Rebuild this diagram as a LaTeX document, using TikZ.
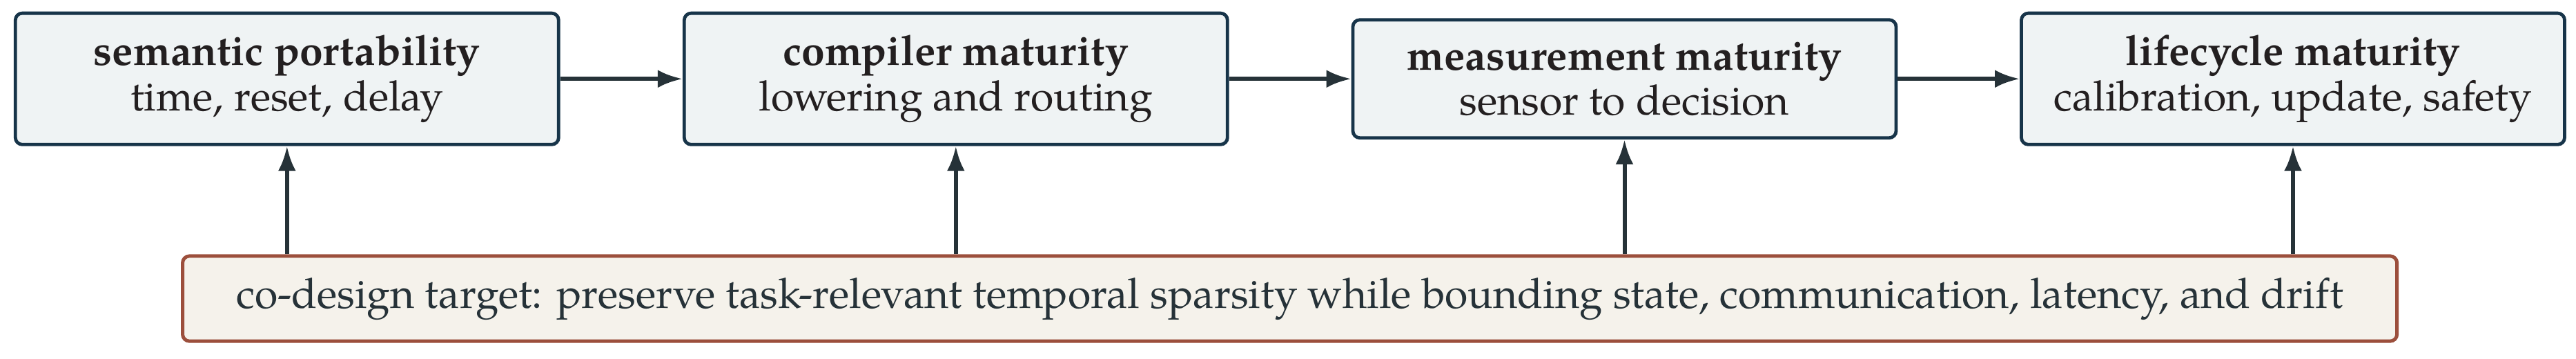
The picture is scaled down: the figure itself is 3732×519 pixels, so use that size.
\documentclass[tikz,border=0pt]{standalone}
\usepackage{fontspec}
\setmainfont{TeX Gyre Pagella}
\usetikzlibrary{arrows.meta,positioning}
\definecolor{topfill}{HTML}{EFF3F4}
\definecolor{topline}{HTML}{173449}
\definecolor{toptext}{HTML}{231F20}
\definecolor{arrcol}{HTML}{263238}
\definecolor{botfill}{HTML}{F5F2EB}
\definecolor{botline}{HTML}{9C4F3C}
\definecolor{bottext}{HTML}{263238}
\tikzset{
  stage/.style={draw=topline, fill=topfill, line width=0.72pt, rounded corners=1.5pt,
    minimum width=118.05pt, inner xsep=2pt, inner ysep=4.8pt, align=center,
    text=toptext, font=\fontsize{9.1}{9.8}\selectfont},
  target/.style={draw=botline, fill=botfill, line width=0.75pt, rounded corners=1.5pt,
    minimum width=481.2pt, minimum height=18.5pt, inner sep=2pt, align=center,
    text=bottext, font=\fontsize{9.1}{10}\selectfont},
  flow/.style={draw=arrcol, line width=0.9pt, -{Latex[length=5.4pt,width=3.9pt]}}
}
\begin{document}
\begin{tikzpicture}[x=0.15pt,y=-0.15pt]
\useasboundingbox (0,0) rectangle (3732,519);
\node[stage] (s1) at (415.8,114.2) {\textbf{semantic portability}\\time, reset, delay};
\node[stage] (s2) at (1384.8,114.2) {\textbf{compiler maturity}\\lowering and routing};
\node[stage] (s3) at (2353.5,114.2) {\textbf{measurement maturity}\\sensor to decision};
\node[stage] (s4) at (3322,114.2) {\textbf{lifecycle maturity}\\calibration, update, safety};
\node[target] (t) at (1868.6,432.5) {co-design target: preserve task-relevant temporal sparsity while bounding state, communication, latency, and drift};
\draw[flow] (s1) -- (s2);
\draw[flow] (s2) -- (s3);
\draw[flow] (s3) -- (s4);
\foreach \s in {s1,s2,s3,s4} {
  \draw[flow] (t.north -| \s) -- (\s);
}
\end{tikzpicture}
\end{document}
